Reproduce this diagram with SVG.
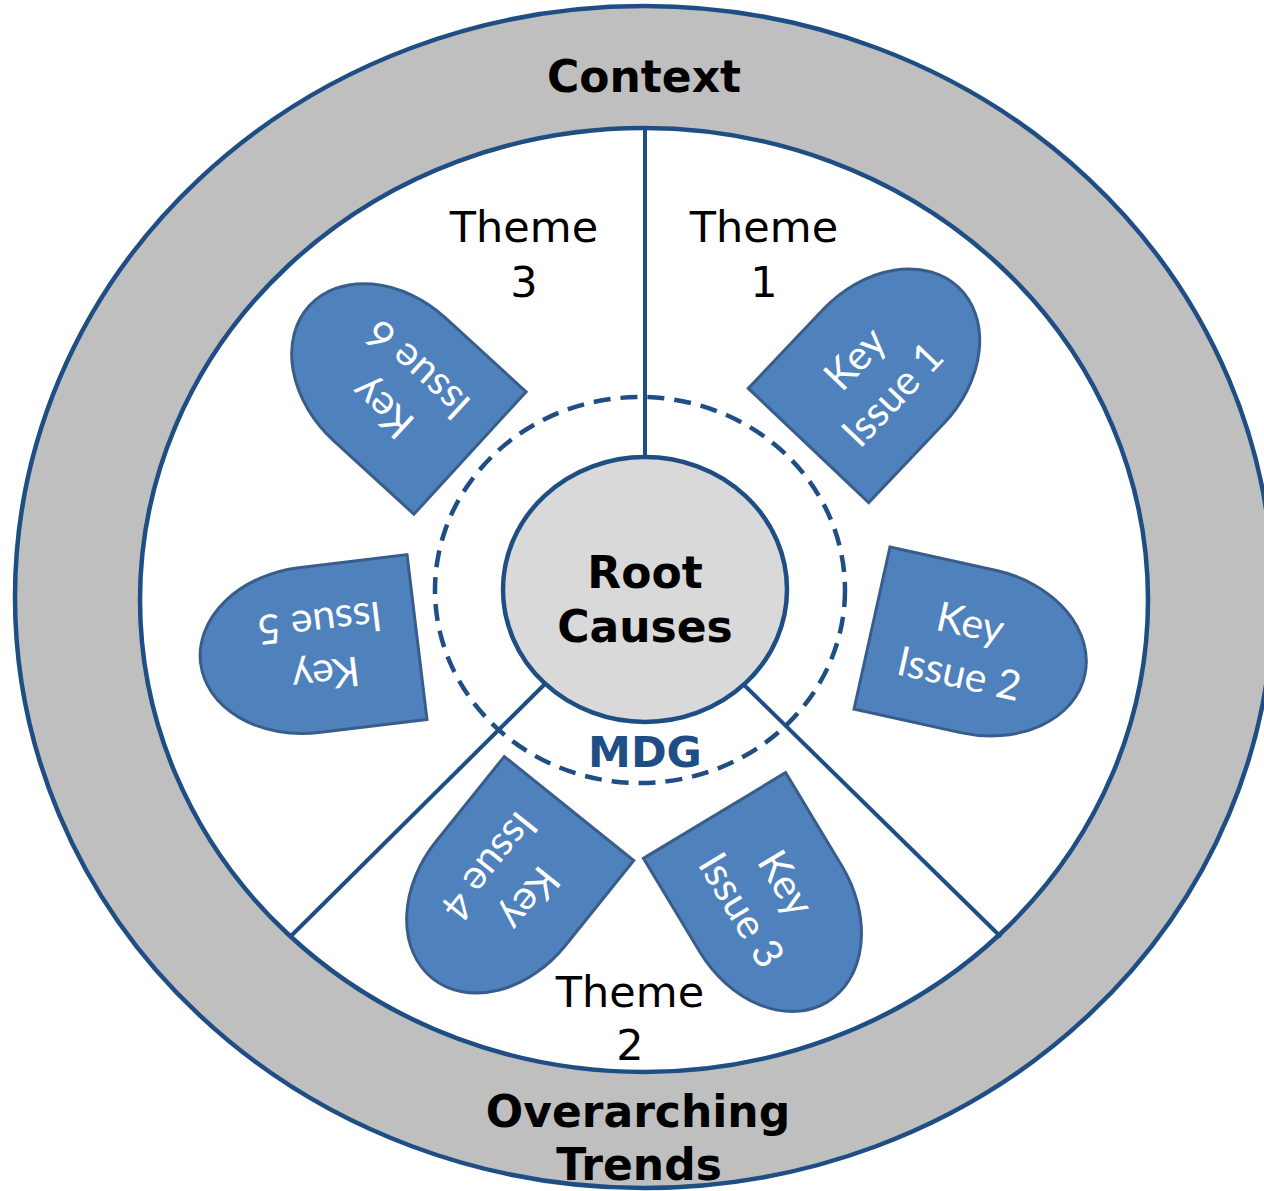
<svg xmlns="http://www.w3.org/2000/svg" width="1264" height="1191" viewBox="0 0 1264 1191">
<style>
.ring{stroke:#1F4E84;stroke-width:4.5}
.ln{stroke:#1F4E84;stroke-width:4;fill:none}
.bold{font-family:"DejaVu Sans",Verdana,sans-serif;font-weight:bold;text-anchor:middle}
.reg{font-family:"DejaVu Sans",Verdana,sans-serif;font-size:43px;text-anchor:middle;fill:#000}
.ki use{fill:#4F81BD;stroke:#385D8A;stroke-width:3}
.ki text{font-family:Lato,"Open Sans",sans-serif;font-size:41px;fill:#fff;text-anchor:middle}
</style>
<defs>
<path id="delay" d="M0,-83 L109,-83 A109,83 0 0 1 109,83 L0,83 Z"/>
</defs>
<g id="context-ring">
<ellipse cx="644" cy="597" rx="629" ry="591" fill="#BFBFBF" class="ring"/>
<ellipse cx="644" cy="600" rx="504" ry="472" fill="#FFFFFF" class="ring"/>
<text class="bold" x="644" y="92" font-size="44">Context</text>
<text class="bold" x="638" y="1127" font-size="44">Overarching</text>
<text class="bold" x="639" y="1180" font-size="44">Trends</text>
</g>
<g id="connectors">
<line class="ln" x1="645" y1="128" x2="645" y2="470"/>
<line class="ln" x1="552" y1="677" x2="290" y2="937"/>
<line class="ln" x1="738" y1="679" x2="1001" y2="937"/>
</g>
<g id="mdg">
<ellipse cx="640" cy="590" rx="205" ry="193" fill="none" stroke="#1F4E84" stroke-width="4.5" stroke-dasharray="17,10"/>
<text class="bold" x="645" y="767" font-size="43" fill="#1F4E84">MDG</text>
</g>
<g id="root-causes">
<ellipse cx="645" cy="589.5" rx="142" ry="132.5" fill="#D9D9D9" class="ring"/>
<text class="bold" x="645" y="588" font-size="44">Root</text>
<text class="bold" x="645" y="642" font-size="44">Causes</text>
</g>
<g id="theme1"><text class="reg" x="764" y="242">Theme</text><text class="reg" x="764" y="297">1</text></g>
<g id="theme2"><text class="reg" x="630" y="1007">Theme</text><text class="reg" x="630" y="1060">2</text></g>
<g id="theme3"><text class="reg" x="524" y="242">Theme</text><text class="reg" x="524" y="297">3</text></g>
<g id="key-issue-1" class="ki" transform="translate(808.5,445.5) rotate(-46.5)"><use href="#delay"/><text x="95" y="-12">Key</text><text x="95" y="40">Issue 1</text></g>
<g id="key-issue-2" class="ki" transform="translate(872,628) rotate(12.5)"><use href="#delay"/><text x="95" y="-12">Key</text><text x="95" y="40">Issue 2</text></g>
<g id="key-issue-3" class="ki" transform="translate(714.5,815.5) rotate(58.9)"><use href="#delay"/><text x="95" y="-12">Key</text><text x="95" y="40">Issue 3</text></g>
<g id="key-issue-4" class="ki" transform="translate(569,808.5) rotate(128.8)"><use href="#delay"/><text x="95" y="-12">Key</text><text x="95" y="40">Issue 4</text></g>
<g id="key-issue-5" class="ki" transform="translate(417,637) rotate(173.1)"><use href="#delay"/><text x="95" y="-12">Key</text><text x="95" y="40">Issue 5</text></g>
<g id="key-issue-6" class="ki" transform="translate(470,453) rotate(-137.5)"><use href="#delay"/><text x="95" y="-12">Key</text><text x="95" y="40">Issue 6</text></g>
</svg>
